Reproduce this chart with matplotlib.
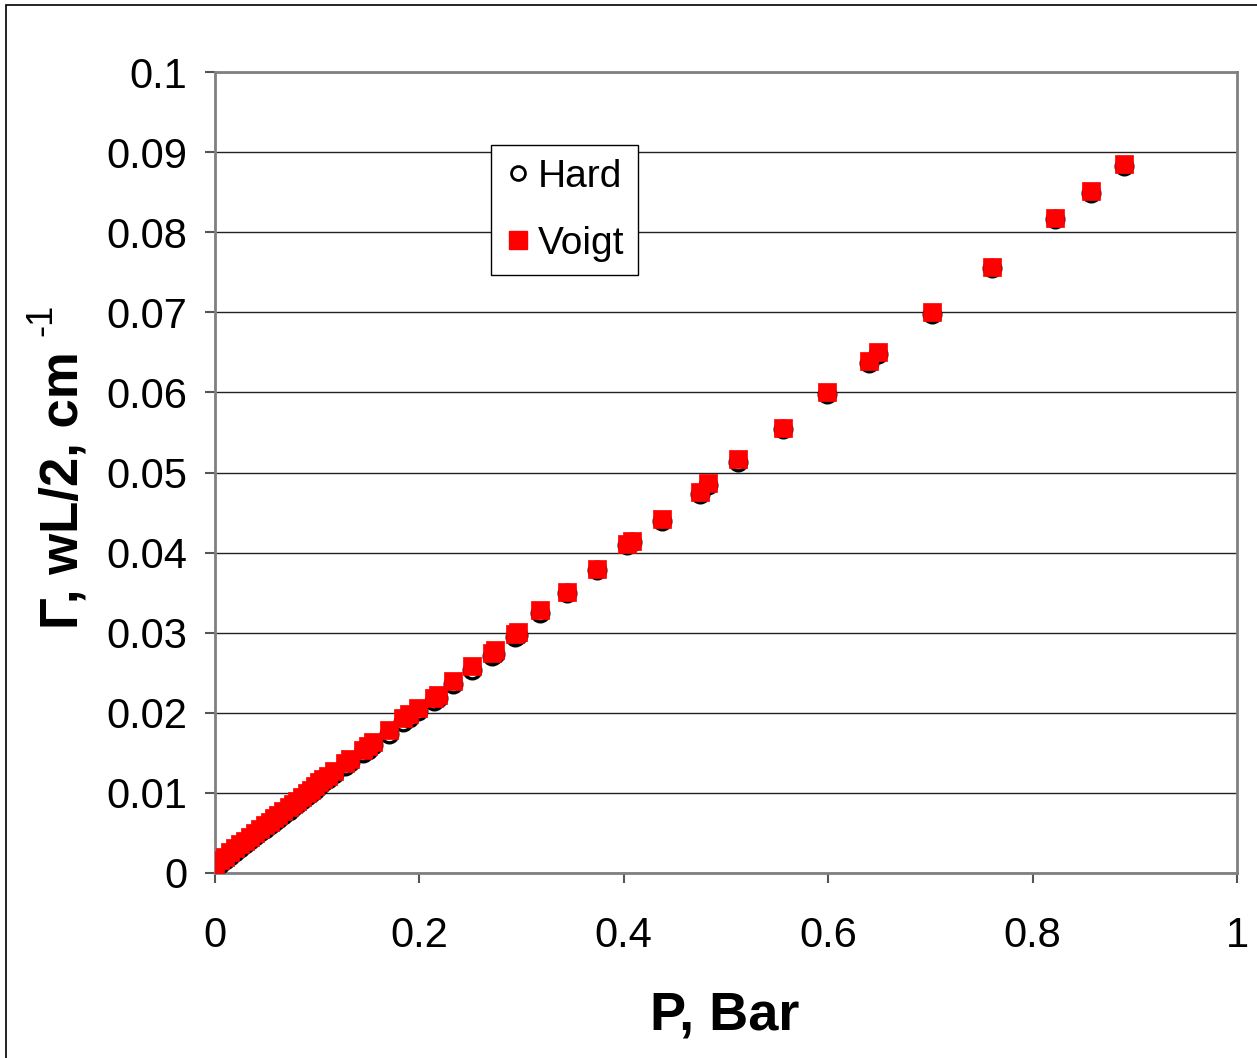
import matplotlib
matplotlib.use("Agg")
import matplotlib.pyplot as plt
from matplotlib.patches import Rectangle
from matplotlib.lines import Line2D

plt.rcParams['font.family'] = ['Liberation Sans', 'DejaVu Sans']

# Pressure, Bar
pressure = [0.000, 0.005, 0.010, 0.015, 0.020, 0.024, 0.029, 0.034, 0.039, 0.044,
            0.049, 0.054, 0.058, 0.062, 0.067, 0.072, 0.076, 0.080, 0.085, 0.090,
            0.094, 0.098, 0.102, 0.106, 0.111, 0.116, 0.127, 0.132, 0.145, 0.150,
            0.155, 0.170, 0.184, 0.190, 0.199, 0.214, 0.218, 0.233, 0.251, 0.271,
            0.274, 0.294, 0.296, 0.318, 0.344, 0.374, 0.403, 0.408, 0.437, 0.475,
            0.482, 0.512, 0.556, 0.599, 0.640, 0.649, 0.702, 0.760, 0.822, 0.857,
            0.889]
# Voigt half-width, cm-1
voigt = [0.0010, 0.0016, 0.0020, 0.0026, 0.0031, 0.0036, 0.0040, 0.0045, 0.0050, 0.0055,
         0.0060, 0.0064, 0.0069, 0.0072, 0.0077, 0.0082, 0.0086, 0.0090, 0.0095, 0.0100,
         0.0104, 0.0108, 0.0113, 0.0117, 0.0121, 0.0127, 0.0137, 0.0142, 0.0154, 0.0158,
         0.0164, 0.0178, 0.0193, 0.0198, 0.0206, 0.0219, 0.0222, 0.0240, 0.0258, 0.0275,
         0.0278, 0.0299, 0.0301, 0.0328, 0.0351, 0.0380, 0.0411, 0.0415, 0.0442, 0.0476,
         0.0487, 0.0517, 0.0556, 0.0600, 0.0639, 0.0650, 0.0700, 0.0757, 0.0818, 0.0851,
         0.0885]
# Hard-collision half-width, cm-1
hard = [0.0006, 0.0011, 0.0016, 0.0021, 0.0026, 0.0031, 0.0036, 0.0041, 0.0046, 0.0051,
        0.0055, 0.0060, 0.0064, 0.0068, 0.0073, 0.0078, 0.0082, 0.0086, 0.0091, 0.0096,
        0.0100, 0.0104, 0.0109, 0.0113, 0.0117, 0.0123, 0.0133, 0.0138, 0.0150, 0.0154,
        0.0160, 0.0174, 0.0189, 0.0194, 0.0202, 0.0215, 0.0218, 0.0236, 0.0254, 0.0271,
        0.0274, 0.0295, 0.0297, 0.0325, 0.0349, 0.0378, 0.0409, 0.0413, 0.0440, 0.0473,
        0.0484, 0.0513, 0.0554, 0.0598, 0.0637, 0.0648, 0.0698, 0.0755, 0.0816, 0.0849,
        0.0883]

x_ticks = [0, 0.2, 0.4, 0.6, 0.8, 1]
x_ticklabels = ['0', '0.2', '0.4', '0.6', '0.8', '1']
y_ticks = [0, 0.01, 0.02, 0.03, 0.04, 0.05, 0.06, 0.07, 0.08, 0.09, 0.1]
y_ticklabels = ['0', '0.01', '0.02', '0.03', '0.04', '0.05', '0.06', '0.07', '0.08', '0.09', '0.1']

W, H = 1257, 1058
fig = plt.figure(figsize=(W / 100, H / 100), dpi=100)
fig.patches.append(Rectangle((6 / W, -0.01), 1.02, 1 - 5 / H + 0.01,
                             transform=fig.transFigure, fill=False,
                             edgecolor='black', linewidth=1.2))

ax = fig.add_axes([215 / W, 1 - 873 / H, (1237 - 215) / W, (873 - 72) / H])
ax.set_xlim(0, 1)
ax.set_ylim(0, 0.1)

ax.scatter(pressure, hard, marker='o', s=12 ** 2, facecolor='white',
           edgecolor='black', linewidth=2.4, zorder=3)
ax.scatter(pressure, voigt, marker='s', s=13.5 ** 2, color='#ff0000',
           edgecolor='#ff0000', linewidth=0.5, zorder=4)

ax.set_xticks(x_ticks)
ax.set_xticklabels(x_ticklabels)
ax.set_yticks(y_ticks)
ax.set_yticklabels(y_ticklabels)
ax.tick_params(axis='both', labelsize=30, direction='out', length=7,
               width=1.5, color='#555555')
ax.tick_params(axis='y', pad=13)
ax.tick_params(axis='x', pad=24)

ax.yaxis.grid(True, color='#222222', linewidth=1.0)
ax.set_axisbelow(True)
for s in ax.spines.values():
    s.set_color('#808080')
    s.set_linewidth(2)

fig.text(725 / W, 1 - 1015 / H, 'P, Bar', fontsize=39, fontweight='bold',
         ha='center', va='center')
fig.text(64 / W, 1 - 490 / H, 'Γ, wL/2, cm', fontsize=38,
         fontweight='bold', rotation=90, ha='center', va='center')
fig.text(42 / W, 1 - 320 / H, '-1', fontsize=26,
         rotation=90, ha='center', va='center')

handles = [Line2D([], [], marker='o', linestyle='none', markersize=10,
                  markerfacecolor='white', markeredgecolor='black', markeredgewidth=2),
           Line2D([], [], marker='s', linestyle='none', markersize=13,
                  color='#ff0000')]
leg = ax.legend(handles, ['Hard', 'Voigt'], loc='upper left',
                bbox_to_anchor=(491 / W, 1 - 145 / H), bbox_transform=fig.transFigure,
                borderaxespad=0, fontsize=28, frameon=True, fancybox=False,
                edgecolor='black', framealpha=1, handletextpad=0.15,
                handlelength=0.7, borderpad=0.35, labelspacing=0.8)
leg.get_frame().set_linewidth(1.0)

fig.savefig('out.png', dpi=100)
